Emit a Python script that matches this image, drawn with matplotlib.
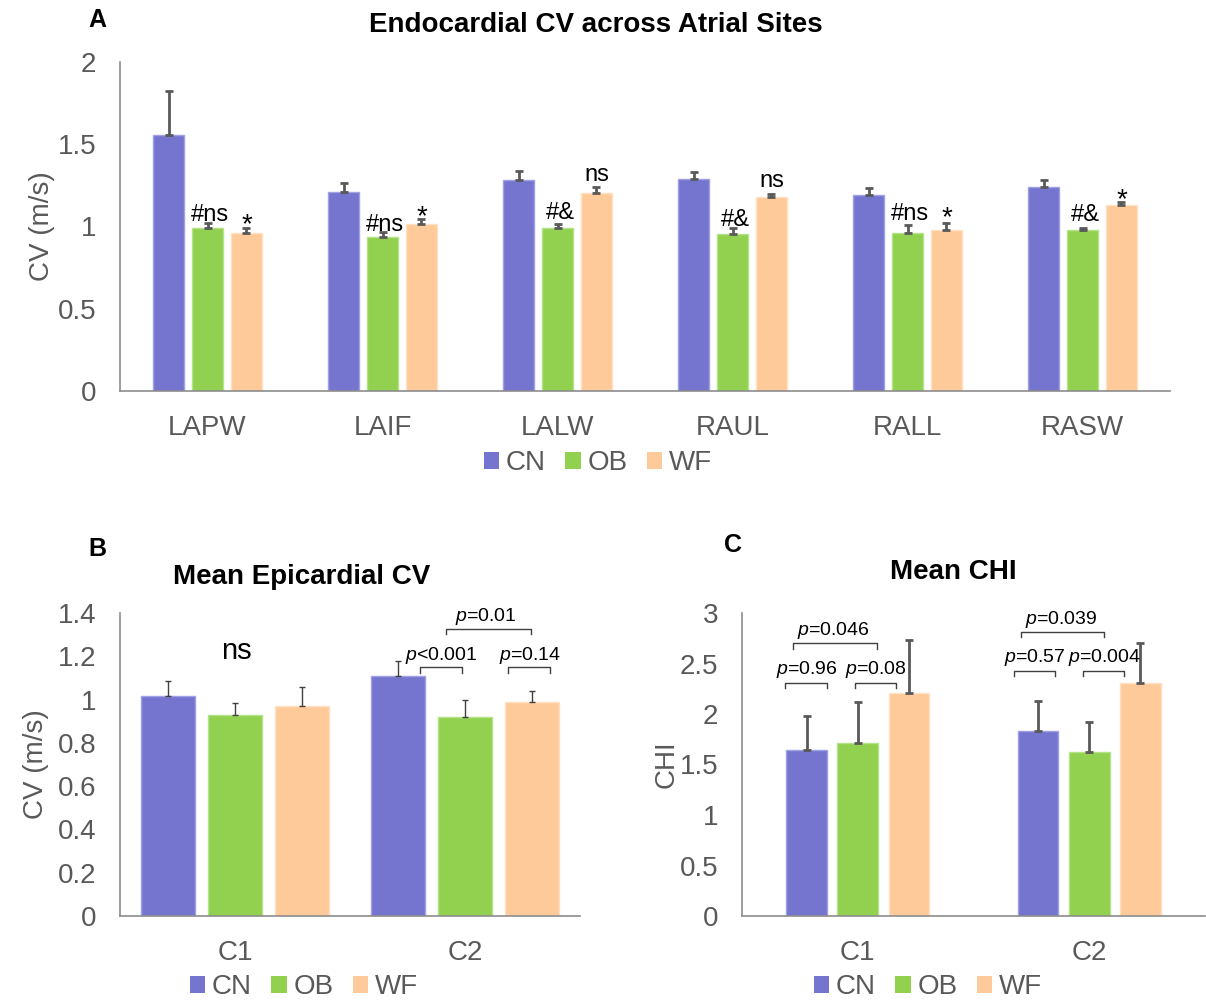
import matplotlib
matplotlib.use('Agg')
import matplotlib.pyplot as plt
import numpy as np
from matplotlib.patches import Patch

plt.rcParams['font.family'] = ['Liberation Sans', 'DejaVu Sans']
plt.rcParams['mathtext.fontset'] = 'custom'
plt.rcParams['mathtext.rm'] = 'Liberation Sans'
plt.rcParams['mathtext.it'] = 'Liberation Sans:italic'

groups = ['CN', 'OB', 'WF']
colors = ['#7575D0', '#92D050', '#FFCA99']
edges = ['#A0A0E4', '#B4E288', '#FFE0C2']
gray = '#595959'

# endocardial CV by site
sites = ['LAPW', 'LAIF', 'LALW', 'RAUL', 'RALL', 'RASW']
cn_endo = [1.555, 1.207, 1.285, 1.289, 1.193, 1.242]
cn_endo_err = [0.27, 0.055, 0.05, 0.04, 0.04, 0.04]
ob_endo = [0.988, 0.939, 0.988, 0.957, 0.963, 0.977]
ob_endo_err = [0.035, 0.03, 0.03, 0.035, 0.045, 0.015]
wf_endo = [0.963, 1.016, 1.203, 1.179, 0.977, 1.128]
wf_endo_err = [0.03, 0.03, 0.035, 0.02, 0.045, 0.02]
# (site, group, label, baseline y)
endo_marks = [(0, 1, '#ns', 1.032), (0, 2, '*', 0.965),
              (1, 1, '#ns', 0.975), (1, 2, '*', 1.015),
              (2, 1, '#&', 1.043), (2, 2, 'ns', 1.276),
              (3, 1, '#&', 1.006), (3, 2, 'ns', 1.24),
              (4, 1, '#ns', 1.039), (4, 2, '*', 1.005),
              (5, 1, '#&', 1.032), (5, 2, '*', 1.115)]

# epicardial CV and CHI by cluster
clusters = ['C1', 'C2']
cn_epi = [1.018, 1.109]
cn_epi_err = [0.07, 0.07]
ob_epi = [0.928, 0.918]
ob_epi_err = [0.055, 0.08]
wf_epi = [0.968, 0.989]
wf_epi_err = [0.09, 0.05]

cn_chi = [1.64, 1.83]
cn_chi_err = [0.34, 0.30]
ob_chi = [1.71, 1.62]
ob_chi_err = [0.41, 0.30]
wf_chi = [2.21, 2.31]
wf_chi_err = [0.52, 0.39]

# brackets: (x0, x1, y, leg, label, text x, text baseline)
epi_brackets = [(0.804, 0.988, 1.150, 0.026, '$\\mathit{p}$<0.001', 0.898, 1.181),
                (1.186, 1.368, 1.150, 0.026, '$\\mathit{p}$=0.14', 1.282, 1.181),
                (0.919, 1.285, 1.324, 0.023, '$\\mathit{p}$=0.01', 1.092, 1.361)]
chi_brackets = [(-0.313, -0.133, 2.31, 0.05, '$\\mathit{p}$=0.96', -0.22, 2.394),
                (-0.012, 0.165, 2.31, 0.05, '$\\mathit{p}$=0.08', 0.078, 2.394),
                (-0.278, 0.085, 2.70, 0.06, '$\\mathit{p}$=0.046', -0.104, 2.78),
                (0.674, 0.851, 2.43, 0.05, '$\\mathit{p}$=0.57', 0.763, 2.515),
                (0.972, 1.152, 2.43, 0.05, '$\\mathit{p}$=0.004', 1.064, 2.515),
                (0.706, 1.065, 2.81, 0.05, '$\\mathit{p}$=0.039', 0.88, 2.895)]


def grouped_bars(ax, labels, series, errs, width, step, err_lw, err_col, cap):
    x = np.arange(len(labels))
    for i, (vals, err) in enumerate(zip(series, errs)):
        pos = x + (i - 1) * step
        ax.bar(pos, vals, width, color=colors[i], edgecolor=edges[i], linewidth=1, zorder=2)
        ax.errorbar(pos, vals, yerr=[np.zeros(len(err)), err], fmt='none',
                    ecolor=err_col, elinewidth=err_lw, capsize=cap, capthick=err_lw, zorder=3)
    ax.set_xticks(x)
    ax.set_xticklabels(labels)
    ax.set_xlim(-0.5, len(labels) - 0.5)
    for s in ['top', 'right']:
        ax.spines[s].set_visible(False)
    for s in ['left', 'bottom']:
        ax.spines[s].set_color('#8C8C8C')
        ax.spines[s].set_linewidth(1.2)
    ax.tick_params(length=0, labelsize=20, labelcolor=gray)
    ax.tick_params(axis='y', pad=17)
    ax.tick_params(axis='x', pad=17)


def brackets(ax, items):
    for x0, x1, y, leg, label, tx, ty in items:
        ax.plot([x0, x0, x1, x1], [y - leg, y, y, y - leg], color='#404040', lw=1, zorder=4)
        ax.text(tx, ty, label, ha='center', va='baseline', fontsize=14, color='black')


def legend(fig, cx, cy):
    handles = [Patch(facecolor=c, edgecolor='none') for c in colors]
    leg = fig.legend(handles, groups, loc='center', bbox_to_anchor=(cx / 1206, 1 - cy / 1002),
                     ncol=3, frameon=False, fontsize=20, handlelength=0.55, handleheight=0.55,
                     handletextpad=0.25, columnspacing=0.7, borderaxespad=0)
    for t in leg.get_texts():
        t.set_color(gray)


def fig_axes(fig, l, r, t, b):
    return fig.add_axes([l / 1206, 1 - b / 1002, (r - l) / 1206, (b - t) / 1002])


fig = plt.figure(figsize=(12.06, 10.02), dpi=100)

# A: endocardial CV
ax_a = fig_axes(fig, 120, 1170, 62, 391)
grouped_bars(ax_a, sites, [cn_endo, ob_endo, wf_endo], [cn_endo_err, ob_endo_err, wf_endo_err],
             0.176, 0.222, 2, gray, 3)
ax_a.set_ylim(0, 2)
ax_a.set_yticks([0, 0.5, 1, 1.5, 2])
ax_a.set_yticklabels(['0', '0.5', '1', '1.5', '2'])
ax_a.set_ylabel('CV (m/s)', fontsize=20, color=gray, labelpad=2)
for site, g, label, y in endo_marks:
    xpos = site + (g - 1) * 0.222 + (0.015 if g == 1 else 0.004)
    size = 20 if label == '*' else 17
    ax_a.text(xpos, y, label, ha='center', va='baseline', fontsize=size, color='black', zorder=5)
legend(fig, 598, 463)

# B: mean epicardial CV
ax_b = fig_axes(fig, 120, 580, 613, 916)
grouped_bars(ax_b, clusters, [cn_epi, ob_epi, wf_epi], [cn_epi_err, ob_epi_err, wf_epi_err],
             0.234, 0.292, 1, '#404040', 2)
ax_b.set_ylim(0, 1.4)
ax_b.set_yticks(np.arange(0, 1.41, 0.2))
ax_b.set_yticklabels(['0', '0.2', '0.4', '0.6', '0.8', '1', '1.2', '1.4'])
ax_b.set_ylabel('CV (m/s)', fontsize=20, color=gray, labelpad=6)
ax_b.text(0.007, 1.189, 'ns', ha='center', va='baseline', fontsize=21, color='black')
brackets(ax_b, epi_brackets)
legend(fig, 304, 987)

# C: mean CHI
ax_c = fig_axes(fig, 742, 1205, 613, 916)
grouped_bars(ax_c, clusters, [cn_chi, ob_chi, wf_chi], [cn_chi_err, ob_chi_err, wf_chi_err],
             0.176, 0.221, 2, gray, 3)
ax_c.set_ylim(0, 3)
ax_c.set_yticks([0, 0.5, 1, 1.5, 2, 2.5, 3])
ax_c.set_yticklabels(['0', '0.5', '1', '1.5', '2', '2.5', '3'])
ax_c.set_ylabel('CHI', fontsize=20, color=gray, labelpad=0)
brackets(ax_c, chi_brackets)
legend(fig, 928, 987)

# titles and panel letters
title_font = dict(fontsize=20, fontweight='bold', color='black')
fig.text(596 / 1206, 1 - 25 / 1002, 'Endocardial CV across Atrial Sites', ha='center', va='center', **title_font)
fig.text(302 / 1206, 1 - 577 / 1002, 'Mean Epicardial CV', ha='center', va='center', **title_font)
fig.text(953 / 1206, 1 - 572 / 1002, 'Mean CHI', ha='center', va='center', **title_font)
for letter, x, y in [('A', 97, 20), ('B', 97, 549), ('C', 733, 545)]:
    fig.text(x / 1206, 1 - y / 1002, letter, ha='center', va='center', fontsize=18,
             fontweight='bold', color='black')

fig.savefig('out.png', dpi=100, facecolor='white')
